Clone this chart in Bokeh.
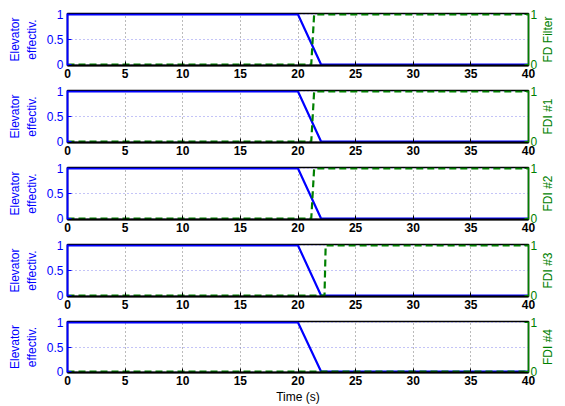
import math
from bokeh.plotting import figure
from bokeh.layouts import column, row
from bokeh.models import Range1d, LinearAxis, FixedTicker, Label
from bokeh.embed import file_html
from bokeh.resources import INLINE

# ---- data ----
elev_t = [0, 20, 22, 40]
elev_y = [1, 1, 0, 0]

fd_names = ["FD Filter", "FDI #1", "FDI #2", "FDI #3", "FDI #4"]
fd_t = [
    [0, 21.15, 21.4, 40],
    [0, 21.15, 21.4, 40],
    [0, 21.15, 21.4, 40],
    [0, 22.3, 22.4, 40],
    [0, 40],
]
fd_y = [
    [0, 0, 1, 1],
    [0, 0, 1, 1],
    [0, 0, 1, 1],
    [0, 0, 1, 1],
    [0, 0],
]
x_ticks = [0, 5, 10, 15, 20, 25, 30, 35, 40]
left_ticks = [0, 0.5, 1]
right_ticks = [0, 1]
left_label = "Elevator\neffectiv."
x_label = "Time (s)"

BLUE = "#0000ff"
GREEN = "#008000"
FONT = "Liberation Sans"

heights = [85, 77, 77, 77, 90]
tops = [13, 5, 5, 5, 5]
bottoms = [20, 20, 20, 20, 33]
MAIN_W = 540
LAB_W = 565 - MAIN_W

rows = []
for i in range(5):
    p = figure(width=MAIN_W, height=heights[i], output_backend="svg", toolbar_location=None,
               x_range=Range1d(0, 40), y_range=Range1d(-0.02, 1.02),
               min_border_left=67, min_border_right=12,
               min_border_top=tops[i], min_border_bottom=bottoms[i])
    p.extra_y_ranges = {"r": Range1d(-0.02, 1.02)}
    p.outline_line_color = "black"
    p.outline_line_width = 1.5
    p.background_fill_color = "white"
    p.border_fill_color = "white"

    # x axis
    xa = p.xaxis[0]
    xa.ticker = FixedTicker(ticks=x_ticks)
    xa.axis_line_color = "black"
    xa.axis_line_width = 2
    xa.major_tick_in = 4
    xa.major_tick_out = 0
    xa.minor_tick_line_color = None
    xa.major_tick_line_color = "black"
    xa.major_label_text_font = FONT
    xa.major_label_text_font_size = "12px"
    xa.major_label_text_font_style = "bold"
    xa.major_label_text_color = "black"
    xa.major_label_standoff = 3
    if i == 4:
        xa.axis_label = x_label
        xa.axis_label_text_font = FONT
        xa.axis_label_text_font_size = "12px"
        xa.axis_label_text_font_style = "normal"
        xa.axis_label_text_color = "black"
        xa.axis_label_standoff = 2

    # left axis
    ya = p.yaxis[0]
    ya.ticker = FixedTicker(ticks=left_ticks)
    ya.axis_line_color = BLUE
    ya.axis_line_width = 2
    ya.major_tick_in = 4
    ya.major_tick_out = 0
    ya.minor_tick_line_color = None
    ya.major_tick_line_color = BLUE
    ya.major_label_text_font = FONT
    ya.major_label_text_font_size = "12px"
    ya.major_label_text_color = BLUE
    ya.major_label_standoff = 4
    ya.axis_label = left_label
    ya.axis_label_text_font = FONT
    ya.axis_label_text_font_size = "12px"
    ya.axis_label_text_font_style = "normal"
    ya.axis_label_text_color = BLUE
    ya.axis_label_standoff = 5

    # right axis
    ra = LinearAxis(y_range_name="r", ticker=FixedTicker(ticks=right_ticks))
    ra.axis_line_color = GREEN
    ra.axis_line_width = 1.5
    ra.major_tick_in = 4
    ra.major_tick_out = 0
    ra.minor_tick_line_color = None
    ra.major_tick_line_color = GREEN
    ra.major_label_text_font = FONT
    ra.major_label_text_font_size = "12px"
    ra.major_label_text_color = GREEN
    ra.major_label_standoff = 2
    p.add_layout(ra, "right")

    # grids
    p.xgrid.grid_line_color = "#777777"
    p.xgrid.grid_line_dash = "1 3"
    p.xgrid.grid_line_width = 1
    p.ygrid.grid_line_color = "#8888ee"
    p.ygrid.grid_line_dash = "1 3"
    p.ygrid.grid_line_width = 1

    p.line(elev_t, elev_y, line_color=BLUE, line_width=2.2)
    p.line(fd_t[i], fd_y[i], line_color=GREEN, line_width=2.2, line_dash="7 4",
           y_range_name="r")

    # narrow strip holding the right-axis title (reads bottom-to-top)
    q = figure(width=LAB_W, height=heights[i], output_backend="svg", toolbar_location=None,
               x_range=Range1d(0, LAB_W), y_range=Range1d(0, 1),
               x_axis_location=None, y_axis_location=None,
               min_border_left=0, min_border_right=0,
               min_border_top=tops[i], min_border_bottom=bottoms[i])
    q.outline_line_color = None
    q.xgrid.visible = False
    q.ygrid.visible = False
    q.background_fill_color = "white"
    q.border_fill_color = "white"
    q.add_layout(Label(x=7, y=0.5, text=fd_names[i], angle=math.pi / 2,
                       text_align="center", text_baseline="middle",
                       text_font=FONT, text_font_size="12px", text_color=GREEN))
    rows.append(row(p, q, spacing=0))

layout = column(*rows, spacing=0)
open("out.html", "w").write(file_html(layout, INLINE))
